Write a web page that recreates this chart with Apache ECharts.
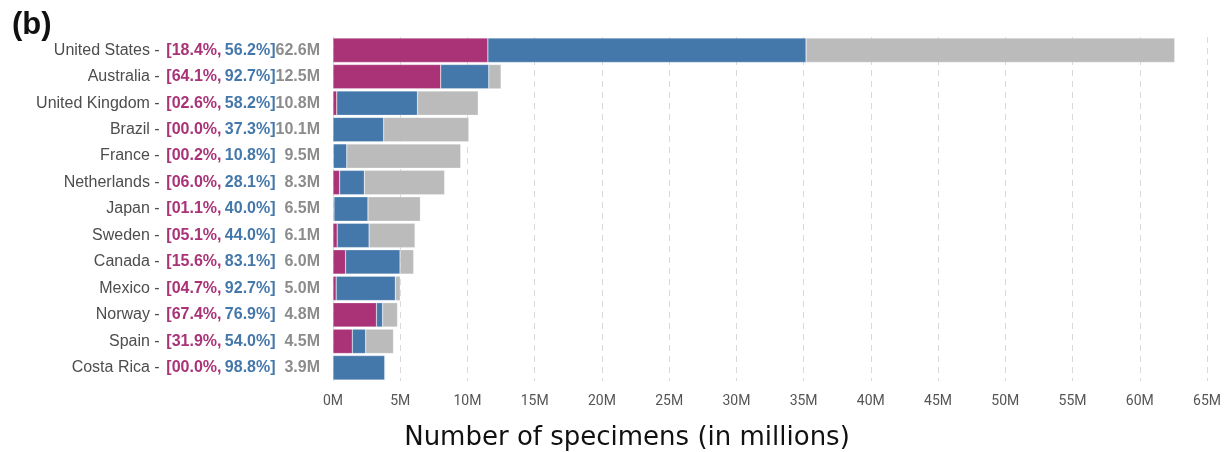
<!DOCTYPE html>
<html>
<head>
    <meta charset="utf-8">
    <title>specimens</title>
    <script src="https://cdn.jsdelivr.net/npm/echarts@6/dist/echarts.min.js"></script>
    <style>
        html, body {margin: 0; padding: 0; background: #fff;}
        #main {width: 1224px; height: 452px;}
    </style>
</head>
<body>
<div id="main"></div>
<script>
    // countries, totals (millions), and the two cumulative percentages
    var countries = ['United States', 'Australia', 'United Kingdom', 'Brazil', 'France', 'Netherlands',
        'Japan', 'Sweden', 'Canada', 'Mexico', 'Norway', 'Spain', 'Costa Rica'];
    var totals = [62.6, 12.5, 10.8, 10.1, 9.5, 8.3, 6.5, 6.1, 6.0, 5.0, 4.8, 4.5, 3.9];
    var pctFirst = [18.4, 64.1, 2.6, 0.0, 0.2, 6.0, 1.1, 5.1, 15.6, 4.7, 67.4, 31.9, 0.0];
    var pctSecond = [56.2, 92.7, 58.2, 37.3, 10.8, 28.1, 40.0, 44.0, 83.1, 92.7, 76.9, 54.0, 98.8];
    var xTicks = ['0M', '5M', '10M', '15M', '20M', '25M', '30M', '35M', '40M', '45M', '50M', '55M', '60M', '65M'];

    var purple = '#AA3377', blue = '#4477AA', grey = '#BBBBBB';

    var partA = [], partB = [], partC = [];
    for (var i = 0; i < countries.length; i++) {
        var t = totals[i];
        partA.push(t * pctFirst[i] / 100);
        partB.push(t * (pctSecond[i] - pctFirst[i]) / 100);
        partC.push(t * (100 - pctSecond[i]) / 100);
    }

    function pad(v) {
        var s = v.toFixed(1);
        return v < 10 ? '0' + s : s;
    }

    var myChart = echarts.init(document.getElementById('main'));
    var option = {
        animation: false,
        grid: {left: 333, right: 17, top: 37, bottom: 71},
        xAxis: {
            type: 'value',
            min: 0,
            max: 65,
            interval: 5,
            axisLine: {show: false},
            axisTick: {show: false},
            axisLabel: {
                color: '#555',
                fontSize: 14,
                fontFamily: 'Liberation Sans Narrow, Roboto',
                margin: 13,
                formatter: function (v) { return xTicks[v / 5]; }
            },
            splitLine: {show: true, lineStyle: {color: '#d9d9d9', type: [6, 5], width: 1}}
        },
        yAxis: {
            type: 'category',
            inverse: true,
            data: countries,
            axisLine: {show: false},
            axisTick: {show: false},
            axisLabel: {
                margin: 13,
                formatter: function (name, idx) {
                    // figure space keeps the number columns lined up
                    var tot = totals[idx] < 10 ? '\u2007' + totals[idx].toFixed(1) : totals[idx].toFixed(1);
                    return '{n|' + name + ' -}  {a|[' + pad(pctFirst[idx]) + '%,} {b|' + pad(pctSecond[idx]) + '%]}{c|' + tot + 'M}';
                },
                rich: {
                    n: {color: '#4d4d4d', fontSize: 16, fontFamily: 'Liberation Sans'},
                    a: {color: purple, fontSize: 16, fontWeight: 'bold', fontFamily: 'Liberation Sans'},
                    b: {color: blue, fontSize: 16, fontWeight: 'bold', fontFamily: 'Liberation Sans'},
                    c: {color: '#8c8c8c', fontSize: 16, fontWeight: 'bold', fontFamily: 'Liberation Sans'}
                }
            }
        },
        series: [
            {name: 'a', type: 'bar', stack: 'all', data: partA, barCategoryGap: '8%',
                itemStyle: {color: purple, borderColor: 'rgba(255,255,255,0.5)', borderWidth: 0.5}},
            {name: 'b', type: 'bar', stack: 'all', data: partB,
                itemStyle: {color: blue, borderColor: 'rgba(255,255,255,0.5)', borderWidth: 0.5}},
            {name: 'c', type: 'bar', stack: 'all', data: partC,
                itemStyle: {color: grey, borderColor: 'rgba(255,255,255,0.5)', borderWidth: 0.5}}
        ],
        graphic: [
            {type: 'text', left: 12, top: 10,
                style: {text: '(b)', fontSize: 31, fontWeight: 'bold', fill: '#111', fontFamily: 'Liberation Sans'}},
            {type: 'text', x: 627, y: 438,
                style: {text: 'Number of specimens (in millions)', fontSize: 26, fill: '#111',
                    fontFamily: 'DejaVu Sans', align: 'center', verticalAlign: 'middle'}}
        ]
    };
    myChart.setOption(option);
</script>
</body>
</html>
